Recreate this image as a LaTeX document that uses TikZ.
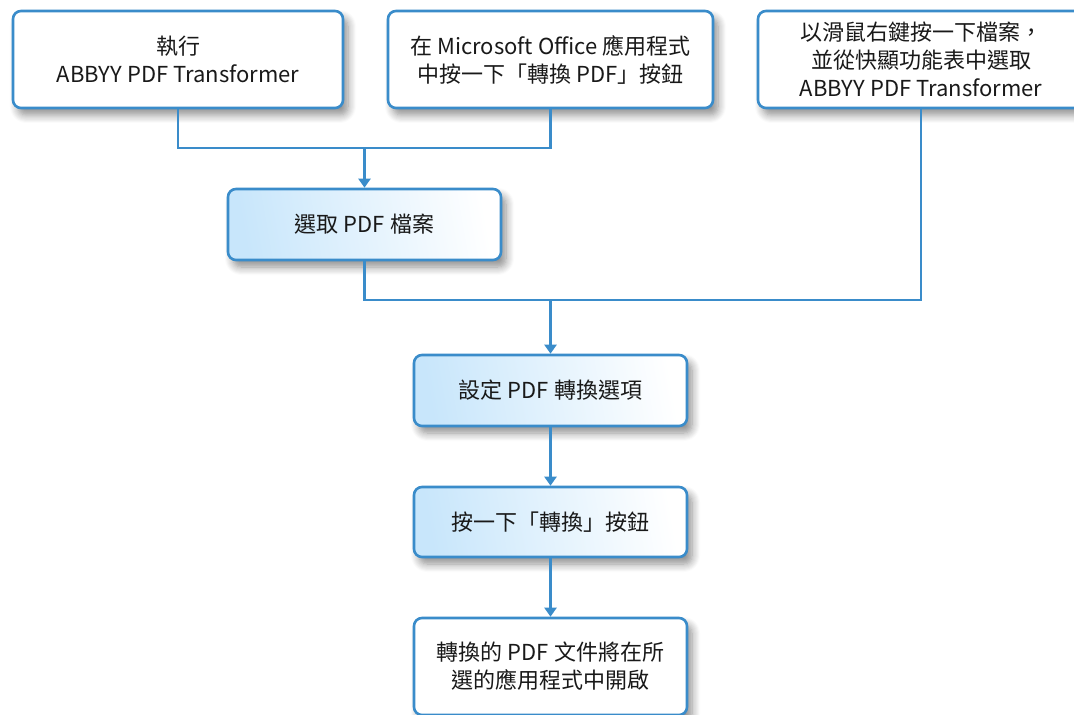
\documentclass[tikz,border=0pt]{standalone}
\usepackage{fontspec}
\setmainfont{Noto Sans CJK TC}
\usetikzlibrary{arrows.meta,shadows.blur}
\definecolor{flowblue}{RGB}{58,140,202}
\definecolor{paleblue}{RGB}{200,230,251}
\definecolor{inktext}{RGB}{25,25,25}
\tikzset{
  stepbox/.style={draw=flowblue, line width=1.3pt, rounded corners=4pt, fill=white,
    align=center, text=inktext, font=\fontsize{11}{14}\selectfont, inner sep=0pt,
    blur shadow={shadow xshift=2.5pt, shadow yshift=-3.5pt, shadow blur radius=4pt,
      shadow blur steps=8, shadow opacity=45}},
  shadebox/.style={stepbox, left color=paleblue, right color=white, shading angle=100},
  link/.style={draw=flowblue, line width=1.3pt},
  flow/.style={link, -{Triangle[width=6pt,length=4.5pt]}}
}
\begin{document}
\begin{tikzpicture}[x=0.5pt,y=-0.5pt]

\useasboundingbox (0,0) rectangle (1074,715);

% top row: three ways to start
\node[stepbox, minimum width=165pt, minimum height=48.5pt] (start) at (178,59.5) {執行\\ABBYY PDF Transformer};
\node[stepbox, minimum width=162.5pt, minimum height=48.5pt] (office) at (550.5,59.5) {在 Microsoft Office 應用程式\\中按一下「轉換 PDF」按鈕};
\node[stepbox, minimum width=163pt, minimum height=48.5pt] (context) at (921,59.5) {以滑鼠右鍵按一下檔案，\\並從快顯功能表中選取\\ABBYY PDF Transformer};

% middle steps
\node[shadebox, minimum width=136.5pt, minimum height=35.5pt] (pick) at (364.5,224.5) {選取 PDF 檔案};
\node[shadebox, minimum width=136.5pt, minimum height=35.5pt] (options) at (550.5,390.5) {設定 PDF 轉換選項};
\node[shadebox, minimum width=136.5pt, minimum height=35pt] (convert) at (550.5,522) {按一下「轉換」按鈕};

% result
\node[stepbox, minimum width=136.5pt, minimum height=48.5pt] (result) at (550.5,666.5) {轉換的 PDF 文件將在所\\選的應用程式中開啟};

% junctions
\coordinate (joinA) at (364.5,148);
\coordinate (joinB) at (550.5,300);

\draw[link] (start.south) |- (joinA) -| (office.south);
\draw[flow] (joinA) -- (pick.north);
\draw[link] (pick.south) |- (joinB) -| (context.south);
\draw[flow] (joinB) -- (options.north);
\draw[flow] (options) -- (convert);
\draw[flow] (convert) -- (result);

\end{tikzpicture}
\end{document}
